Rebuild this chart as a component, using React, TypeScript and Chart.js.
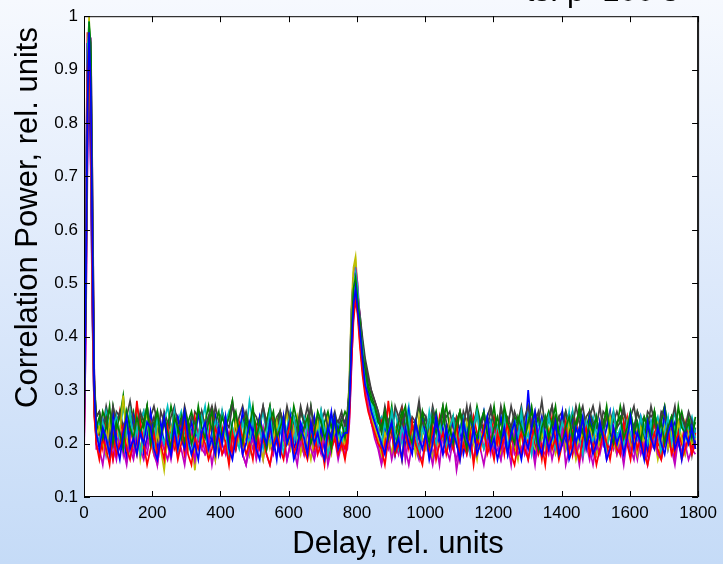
import React, { useEffect, useRef } from 'react';
import { Chart, registerables } from 'chart.js';

Chart.register(...registerables);

// Delay axis (rel. units) shared by every trace
const delay = [
  0, 5, 10, 15, 20, 25, 30, 36,
  45, 55, 65, 75, 85, 95, 105, 115, 125, 135,
  145, 155, 165, 175, 185, 195, 205, 215, 225, 235,
  245, 255, 265, 275, 285, 295, 305, 315, 325, 335,
  345, 355, 365, 375, 385, 395, 405, 415, 425, 435,
  445, 455, 465, 475, 485, 495, 505, 515, 525, 535,
  545, 555, 565, 575, 585, 595, 605, 615, 625, 635,
  645, 655, 665, 675, 685, 695, 705, 715, 725, 735,
  745, 755, 765,
  772, 778, 784, 790, 796, 802, 809, 816, 824, 833, 842, 852, 862,
  872, 882, 892, 902, 912, 922, 932, 942, 952, 962,
  972, 982, 992, 1002, 1012, 1022, 1032, 1042, 1052, 1062,
  1072, 1082, 1092, 1102, 1112, 1122, 1132, 1142, 1152, 1162,
  1172, 1182, 1192, 1202, 1212, 1222, 1232, 1242, 1252, 1262,
  1272, 1282, 1292, 1302, 1312, 1322, 1332, 1342, 1352, 1362,
  1372, 1382, 1392, 1402, 1412, 1422, 1432, 1442, 1452, 1462,
  1472, 1482, 1492, 1502, 1512, 1522, 1532, 1542, 1552, 1562,
  1572, 1582, 1592, 1602, 1612, 1622, 1632, 1642, 1652, 1662,
  1672, 1682, 1692, 1702, 1712, 1722, 1732, 1742, 1752, 1762,
  1772, 1782, 1792,
];

const xTicks = [0, 200, 400, 600, 800, 1000, 1200, 1400, 1600, 1800];
const yTicks = [0.1, 0.2, 0.3, 0.4, 0.5, 0.6, 0.7, 0.8, 0.9, 1];

const xTitle = 'Delay, rel. units';
const yTitle = 'Correlation Power, rel. units';
const topTitle = 'ts: p=100 s';

// MATLAB default line colour order
const colorOrder = ['#0000ff', '#008000', '#ff0000', '#00bfbf', '#bf00bf', '#bfbf00', '#404040'];

const trace01 = [
  .21, .48, .83, .97, .86, .55, .30, .22,
  .19, .23, .21, .18, .24, .20, .17, .22, .25, .19,
  .21, .18, .22, .20, .24, .23, .19, .17, .21, .25,
  .20, .18, .23, .19, .22, .26, .21, .18, .20, .17,
  .22, .24, .19, .21, .18, .23, .20, .25, .19, .17,
  .21, .23, .18, .20, .24, .22, .19, .17, .22, .20,
  .24, .19, .21, .18, .25, .20, .22, .17, .19, .23,
  .21, .18, .24, .20, .22, .19, .17, .23, .21, .25,
  .19, .21, .22,
  .22, .27, .38, .46, .49, .45, .41, .36, .31, .29, .26, .24, .22,
  .20, .18, .22, .24, .19, .21, .17, .23, .20, .18,
  .24, .21, .19, .22, .17, .20, .25, .21, .18, .23,
  .19, .22, .20, .17, .24, .21, .19, .23, .18, .20,
  .22, .25, .19, .21, .17, .20, .23, .18, .22, .24,
  .20, .17, .21, .19, .23, .26, .20, .18, .22, .19,
  .21, .24, .18, .20, .22, .17, .19, .23, .21, .25,
  .19, .22, .18, .20, .24, .21, .17, .19, .23, .20,
  .22, .18, .21, .25, .19, .22, .20, .17, .24, .21,
  .19, .23, .20, .18, .22, .24, .19, .21, .17, .22,
  .20, .23, .19,
];

const trace02 = [
  .24, .45, .80, .99, .92, .60, .31, .23,
  .25, .21, .23, .27, .20, .24, .22, .19, .26, .23,
  .21, .25, .22, .24, .27, .20, .23, .26, .21, .24,
  .22, .19, .25, .23, .21, .26, .24, .20, .22, .27,
  .23, .21, .24, .26, .19, .22, .25, .23, .20, .24,
  .26, .22, .20, .25, .23, .27, .21, .24, .22, .19,
  .24, .26, .21, .23, .25, .20, .22, .27, .24, .21,
  .23, .25, .20, .22, .26, .24, .21, .23, .19, .25,
  .22, .24, .21,
  .24, .29, .41, .49, .51, .47, .43, .37, .34, .30, .28, .27, .24,
  .23, .26, .21, .24, .19, .22, .25, .27, .22, .20,
  .24, .21, .26, .23, .20, .25, .22, .24, .27, .21,
  .23, .20, .24, .26, .22, .19, .25, .23, .21, .24,
  .26, .22, .20, .23, .25, .21, .27, .24, .22, .20,
  .25, .23, .21, .24, .26, .22, .19, .23, .25, .21,
  .24, .27, .22, .20, .23, .25, .21, .24, .26, .22,
  .20, .24, .22, .25, .21, .23, .27, .22, .20, .24,
  .25, .21, .23, .26, .22, .24, .20, .25, .23, .21,
  .26, .22, .24, .20, .23, .25, .21, .27, .23, .22,
  .24, .21, .25,
];

const trace03 = [
  .18, .52, .90, .96, .78, .45, .26, .20,
  .17, .21, .19, .16, .22, .18, .20, .23, .19, .17,
  .21, .18, .24, .20, .16, .19, .22, .18, .20, .17,
  .23, .19, .21, .17, .20, .24, .18, .16, .21, .19,
  .22, .20, .17, .19, .23, .21, .18, .20, .16, .22,
  .19, .24, .21, .18, .20, .17, .23, .19, .21, .18,
  .16, .20, .22, .19, .17, .21, .24, .18, .20, .22,
  .19, .17, .21, .23, .18, .20, .16, .22, .19, .21,
  .18, .20, .17,
  .20, .25, .35, .43, .47, .44, .38, .33, .29, .26, .24, .22, .20,
  .19, .16, .21, .23, .18, .20, .17, .22, .19, .24,
  .20, .18, .16, .21, .19, .23, .17, .20, .22, .18,
  .21, .19, .24, .17, .20, .18, .22, .16, .21, .19,
  .23, .18, .20, .17, .22, .19, .21, .24, .18, .16,
  .20, .22, .19, .17, .21, .23, .18, .20, .16, .22,
  .19, .21, .17, .20, .24, .18, .22, .19, .17, .21,
  .23, .18, .20, .16, .19, .22, .20, .17, .21, .19,
  .18, .24, .20, .17, .22, .19, .21, .18, .16, .20,
  .22, .19, .17, .21, .23, .18, .20, .22, .17, .19,
  .21, .18, .20,
];

const trace04 = [
  .26, .55, .93, .99, .80, .50, .28, .22,
  .20, .24, .21, .18, .23, .25, .21, .19, .22, .26,
  .20, .23, .18, .22, .24, .21, .19, .25, .22, .20,
  .23, .21, .26, .19, .22, .24, .20, .18, .23, .21,
  .25, .22, .19, .21, .24, .20, .26, .22, .18, .23,
  .21, .19, .24, .22, .20, .25, .21, .23, .19, .22,
  .26, .20, .22, .24, .18, .21, .23, .25, .20, .22,
  .19, .24, .21, .23, .20, .26, .22, .18, .21, .24,
  .22, .20, .23,
  .23, .28, .39, .48, .52, .49, .42, .38, .33, .29, .27, .25, .23,
  .20, .24, .21, .26, .22, .19, .23, .21, .25, .20,
  .22, .18, .23, .21, .26, .22, .20, .24, .21, .19,
  .23, .25, .20, .22, .24, .21, .18, .23, .26, .21,
  .19, .22, .24, .20, .23, .21, .25, .19, .22, .24,
  .21, .26, .20, .22, .18, .23, .21, .24, .20, .25,
  .22, .19, .21, .24, .22, .26, .20, .23, .21, .18,
  .24, .22, .20, .25, .21, .23, .19, .22, .26, .21,
  .23, .20, .24, .22, .19, .21, .25, .22, .20, .24,
  .21, .23, .18, .22, .25, .20, .23, .21, .24, .22,
  .20, .23, .21,
];

const trace05 = [
  .17, .40, .75, .94, .90, .62, .32, .19,
  .19, .16, .21, .18, .20, .17, .22, .19, .16, .21,
  .18, .23, .19, .17, .20, .22, .18, .16, .21, .19,
  .17, .20, .23, .18, .19, .16, .21, .20, .17, .22,
  .19, .18, .21, .16, .20, .23, .18, .19, .17, .21,
  .20, .22, .18, .16, .19, .21, .17, .20, .23, .18,
  .16, .19, .21, .18, .22, .17, .20, .19, .16, .21,
  .18, .23, .19, .17, .20, .18, .22, .16, .19, .21,
  .17, .20, .18,
  .19, .24, .34, .45, .53, .50, .43, .37, .31, .27, .24, .21, .19,
  .16, .19, .21, .17, .20, .18, .22, .19, .16, .20,
  .23, .18, .17, .21, .19, .16, .20, .22, .18, .19,
  .17, .21, .15, .19, .22, .18, .20, .17, .21, .19,
  .16, .20, .23, .18, .19, .17, .21, .20, .16, .22,
  .18, .19, .21, .17, .20, .16, .22, .19, .18, .21,
  .17, .20, .18, .23, .16, .19, .21, .18, .20, .17,
  .22, .19, .16, .20, .18, .21, .17, .19, .23, .18,
  .20, .16, .21, .19, .17, .22, .18, .20, .16, .19,
  .21, .18, .17, .20, .22, .19, .16, .21, .18, .20,
  .17, .19, .18,
];

const trace06 = [
  .20, .50, .86, .93, .82, .50, .27, .21,
  .23, .20, .18, .24, .21, .19, .22, .29, .21, .18,
  .20, .23, .17, .21, .24, .20, .18, .22, .19, .15,
  .21, .23, .20, .18, .22, .25, .19, .21, .18, .22,
  .20, .24, .19, .21, .17, .22, .20, .23, .18, .21,
  .24, .20, .19, .22, .18, .21, .23, .20, .17, .22,
  .19, .21, .24, .18, .20, .22, .19, .23, .21, .18,
  .22, .20, .17, .21, .24, .19, .22, .20, .18, .23,
  .21, .19, .22,
  .22, .30, .44, .52, .54, .48, .41, .35, .32, .28, .25, .23, .21,
  .18, .22, .20, .24, .19, .21, .17, .23, .20, .22,
  .18, .25, .21, .19, .22, .17, .20, .23, .21, .19,
  .24, .20, .22, .18, .21, .19, .23, .20, .17, .22,
  .21, .24, .19, .20, .22, .18, .21, .23, .19, .20,
  .17, .22, .20, .24, .21, .19, .18, .22, .20, .23,
  .21, .18, .20, .22, .19, .24, .21, .17, .20, .22,
  .19, .23, .20, .18, .21, .22, .19, .25, .20, .18,
  .22, .20, .24, .19, .21, .18, .23, .20, .22, .19,
  .21, .17, .20, .23, .19, .22, .20, .24, .21, .18,
  .22, .20, .21,
];

const trace07 = [
  .30, .48, .80, .95, .88, .58, .31, .25,
  .26, .23, .25, .22, .27, .24, .26, .23, .25, .28,
  .24, .22, .26, .24, .27, .23, .25, .21, .26, .24,
  .22, .25, .27, .23, .24, .26, .22, .25, .24, .21,
  .26, .23, .25, .27, .24, .22, .26, .24, .23, .27,
  .25, .22, .24, .26, .23, .25, .21, .24, .27, .23,
  .25, .24, .22, .26, .23, .27, .24, .25, .22, .26,
  .24, .23, .27, .22, .25, .24, .26, .23, .21, .25,
  .24, .26, .23,
  .25, .30, .40, .47, .50, .48, .44, .39, .35, .32, .30, .28, .26,
  .23, .26, .24, .22, .27, .25, .23, .26, .22, .25,
  .24, .28, .23, .25, .21, .26, .24, .23, .27, .24,
  .22, .25, .24, .26, .23, .27, .22, .24, .26, .23,
  .25, .23, .26, .24, .22, .27, .24, .25, .23, .26,
  .24, .22, .25, .27, .23, .24, .26, .22, .25, .24,
  .27, .23, .25, .22, .26, .24, .23, .27, .24, .21,
  .25, .26, .24, .23, .27, .22, .25, .24, .26, .23,
  .24, .27, .23, .25, .22, .26, .24, .25, .23, .27,
  .24, .22, .26, .25, .23, .24, .27, .22, .25, .23,
  .26, .24, .19,
];

const trace08 = [
  .23, .60, .95, .90, .70, .42, .26, .22,
  .20, .24, .18, .22, .26, .21, .19, .23, .17, .22,
  .25, .20, .23, .18, .21, .26, .22, .19, .24, .20,
  .22, .18, .23, .25, .21, .19, .22, .24, .20, .26,
  .21, .23, .19, .22, .25, .18, .21, .24, .20, .23,
  .19, .22, .26, .21, .18, .23, .20, .25, .22, .19,
  .24, .21, .17, .23, .20, .22, .25, .19, .21, .24,
  .22, .18, .21, .25, .20, .23, .19, .22, .26, .21,
  .23, .20, .24,
  .23, .31, .45, .51, .52, .46, .40, .35, .31, .28, .26, .24, .22,
  .19, .23, .21, .25, .18, .22, .24, .20, .26, .21,
  .19, .23, .25, .21, .18, .22, .24, .20, .23, .19,
  .22, .24, .20, .23, .18, .21, .25, .22, .19, .23,
  .26, .21, .24, .19, .22, .25, .21, .18, .23, .20,
  .22, .25, .21, .30, .22, .18, .22, .25, .21, .19,
  .23, .20, .22, .26, .19, .21, .24, .20, .23, .18,
  .21, .25, .22, .19, .24, .20, .23, .26, .21, .19,
  .22, .24, .20, .18, .23, .21, .25, .22, .19, .24,
  .20, .23, .21, .26, .19, .22, .24, .20, .18, .23,
  .21, .24, .20,
];

const trace09 = [
  .25, .44, .78, .98, .95, .66, .33, .24,
  .22, .26, .24, .21, .27, .23, .25, .29, .22, .24,
  .26, .21, .25, .23, .27, .20, .24, .26, .22, .25,
  .23, .27, .24, .22, .25, .20, .24, .26, .23, .21,
  .25, .24, .27, .22, .24, .26, .21, .23, .25, .28,
  .23, .21, .25, .24, .22, .26, .23, .25, .21, .24,
  .27, .22, .24, .26, .23, .21, .25, .24, .22, .26,
  .24, .22, .27, .23, .25, .20, .24, .26, .23, .25,
  .22, .24, .26,
  .25, .30, .41, .48, .50, .47, .43, .39, .35, .31, .29, .27, .25,
  .22, .25, .23, .27, .21, .24, .26, .23, .25, .22,
  .24, .27, .23, .21, .25, .24, .26, .22, .24, .27,
  .23, .25, .22, .26, .24, .21, .25, .23, .27, .24,
  .22, .25, .23, .27, .22, .24, .26, .23, .21, .25,
  .24, .26, .22, .24, .27, .23, .25, .21, .24, .26,
  .23, .25, .21, .24, .26, .22, .25, .23, .27, .24,
  .22, .26, .23, .25, .21, .24, .26, .22, .25, .23,
  .27, .24, .22, .25, .23, .26, .24, .21, .25, .23,
  .26, .22, .24, .27, .23, .25, .22, .24, .26, .23,
  .25, .22, .24,
];

const trace10 = [
  .20, .62, .97, .92, .72, .44, .25, .21,
  .22, .19, .24, .20, .17, .22, .26, .21, .19, .23,
  .20, .28, .22, .19, .21, .24, .20, .18, .22, .25,
  .20, .23, .19, .21, .24, .18, .22, .20, .25, .21,
  .19, .23, .20, .27, .21, .19, .23, .20, .22, .18,
  .24, .21, .19, .22, .20, .23, .18, .24, .21, .19,
  .22, .25, .20, .18, .23, .21, .19, .24, .22, .20,
  .18, .22, .24, .19, .21, .23, .20, .17, .22, .24,
  .20, .21, .19,
  .21, .27, .38, .46, .49, .45, .39, .34, .30, .27, .25, .23, .21,
  .24, .19, .28, .22, .18, .21, .26, .20, .23, .19,
  .22, .19, .24, .21, .18, .23, .20, .25, .21, .19,
  .22, .24, .20, .18, .23, .21, .19, .25, .22, .20,
  .23, .19, .21, .25, .20, .22, .18, .24, .21, .19,
  .23, .18, .22, .20, .24, .19, .21, .17, .22, .20,
  .25, .21, .19, .23, .20, .22, .18, .24, .21, .19,
  .23, .20, .22, .18, .21, .24, .20, .19, .23, .21,
  .18, .22, .25, .20, .21, .19, .23, .22, .18, .21,
  .24, .20, .19, .22, .21, .23, .18, .22, .20, .24,
  .21, .19, .22,
];

const trace11 = [
  .27, .50, .85, .97, .90, .58, .30, .23,
  .24, .21, .26, .23, .20, .25, .22, .27, .23, .21,
  .25, .22, .24, .26, .21, .23, .20, .25, .22, .24,
  .27, .23, .21, .24, .26, .22, .20, .25, .23, .21,
  .24, .27, .22, .20, .25, .23, .21, .24, .26, .22,
  .23, .20, .25, .22, .28, .24, .21, .23, .26, .22,
  .20, .24, .22, .25, .21, .23, .26, .20, .24, .22,
  .25, .23, .21, .24, .22, .26, .23, .20, .25, .22,
  .24, .21, .23,
  .24, .29, .40, .49, .51, .48, .42, .37, .33, .30, .28, .26, .24,
  .25, .21, .24, .22, .26, .23, .20, .24, .27, .22,
  .24, .22, .25, .21, .23, .26, .22, .20, .24, .23,
  .21, .25, .20, .23, .25, .22, .24, .21, .26, .23,
  .26, .22, .24, .20, .23, .25, .22, .24, .21, .25,
  .21, .24, .22, .26, .23, .20, .24, .22, .25, .21,
  .22, .25, .21, .23, .24, .22, .26, .20, .23, .25,
  .21, .23, .25, .22, .20, .24, .23, .26, .21, .24,
  .25, .21, .23, .26, .22, .24, .20, .23, .25, .22,
  .23, .25, .22, .24, .21, .23, .26, .22, .24, .21,
  .23, .25, .22,
];

const trace12 = [
  .19, .38, .70, .92, .96, .68, .34, .20,
  .18, .21, .19, .23, .17, .20, .22, .18, .24, .19,
  .17, .21, .24, .19, .18, .22, .20, .16, .21, .19,
  .20, .17, .21, .19, .23, .18, .20, .22, .17, .21,
  .22, .18, .19, .21, .17, .23, .20, .18, .22, .19,
  .19, .22, .18, .16, .21, .19, .23, .20, .17, .21,
  .20, .18, .22, .19, .21, .17, .20, .24, .18, .20,
  .23, .19, .21, .18, .20, .22, .19, .17, .21, .23,
  .18, .20, .19,
  .20, .26, .36, .44, .48, .46, .41, .36, .31, .27, .24, .22, .20,
  .17, .21, .19, .22, .18, .20, .23, .17, .21, .19,
  .19, .17, .21, .19, .22, .18, .20, .16, .22, .20,
  .24, .19, .17, .21, .20, .22, .18, .21, .19, .23,
  .19, .21, .18, .23, .20, .17, .21, .19, .22, .18,
  .19, .22, .18, .20, .21, .17, .19, .23, .20, .18,
  .22, .20, .18, .21, .19, .23, .18, .20, .16, .21,
  .20, .17, .21, .19, .22, .20, .18, .23, .19, .21,
  .21, .19, .23, .18, .20, .17, .21, .19, .22, .20,
  .19, .22, .18, .20, .21, .19, .17, .22, .20, .18,
  .21, .19, .20,
];

const trace13 = [
  .22, .55, .90, 1.0, .83, .50, .28, .22,
  .24, .20, .22, .18, .25, .21, .23, .19, .22, .26,
  .20, .24, .19, .22, .26, .21, .18, .23, .20, .24,
  .23, .21, .25, .20, .22, .19, .24, .21, .15, .22,
  .21, .23, .18, .22, .25, .20, .22, .24, .19, .21,
  .19, .23, .21, .25, .20, .22, .18, .23, .21, .24,
  .24, .21, .23, .19, .22, .26, .20, .22, .25, .19,
  .22, .19, .24, .21, .23, .20, .22, .25, .19, .23,
  .21, .22, .20,
  .23, .33, .46, .53, .55, .49, .42, .36, .32, .29, .26, .24, .22,
  .20, .24, .21, .18, .23, .22, .25, .19, .22, .24,
  .19, .22, .24, .20, .23, .21, .18, .24, .22, .20,
  .23, .25, .20, .22, .19, .24, .21, .23, .26, .20,
  .22, .19, .24, .21, .23, .20, .25, .22, .18, .23,
  .21, .18, .22, .24, .20, .23, .21, .25, .19, .22,
  .19, .23, .21, .25, .22, .20, .23, .18, .22, .24,
  .21, .24, .19, .22, .20, .23, .25, .21, .19, .22,
  .22, .20, .24, .21, .19, .23, .22, .20, .24, .21,
  .20, .24, .22, .21, .23, .20, .18, .22, .25, .21,
  .23, .20, .22,
];

const trace14 = [
  .28, .50, .84, .95, .87, .57, .31, .25,
  .26, .23, .27, .24, .22, .26, .25, .28, .23, .25,
  .23, .27, .24, .26, .22, .25, .27, .24, .21, .26,
  .24, .22, .26, .25, .23, .27, .24, .22, .26, .25,
  .26, .23, .25, .22, .27, .24, .26, .23, .25, .28,
  .23, .25, .27, .24, .22, .26, .25, .23, .27, .24,
  .27, .23, .25, .26, .24, .22, .26, .25, .23, .27,
  .24, .27, .23, .25, .22, .26, .21, .25, .24, .26,
  .23, .25, .24,
  .26, .31, .40, .46, .49, .47, .44, .40, .36, .33, .30, .28, .26,
  .23, .27, .24, .26, .22, .25, .27, .23, .26, .24,
  .24, .22, .26, .25, .23, .27, .24, .21, .26, .25,
  .26, .23, .25, .22, .26, .24, .27, .23, .25, .24,
  .23, .25, .27, .24, .22, .26, .25, .23, .27, .24,
  .24, .27, .23, .25, .22, .26, .24, .28, .23, .25,
  .27, .23, .25, .26, .22, .24, .26, .23, .25, .27,
  .23, .25, .27, .24, .22, .26, .25, .23, .24, .26,
  .24, .26, .23, .25, .27, .23, .24, .22, .26, .25,
  .26, .22, .25, .27, .23, .24, .26, .23, .25, .22,
  .24, .18, .23,
];

const traces = [
  trace01, trace02, trace03, trace04, trace05, trace06, trace07,
  trace08, trace09, trace10, trace11, trace12, trace13, trace14,
];

const FONT = '"Liberation Sans", Arial, Helvetica, sans-serif';

const framePlugin = {
  id: 'matlabFrame',
  beforeDraw(chart: any) {
    const { ctx, chartArea: a } = chart;
    ctx.save();
    ctx.fillStyle = '#ffffff';
    ctx.fillRect(a.left, a.top, a.right - a.left, a.bottom - a.top);
    ctx.restore();
  },
  afterDatasetsDraw(chart: any) {
    const { ctx, chartArea: a, scales } = chart;
    ctx.save();
    ctx.strokeStyle = '#000';
    ctx.lineWidth = 1;
    ctx.strokeRect(a.left + 0.5, a.top + 0.5, a.right - a.left - 1, a.bottom - a.top - 1);
    ctx.lineWidth = 2;
    ctx.strokeStyle = '#222';
    ctx.beginPath();
    ctx.moveTo(a.right, a.top);
    ctx.lineTo(a.right, a.bottom);
    ctx.stroke();
    const L = 6;
    ctx.lineWidth = 1;
    ctx.strokeStyle = '#000';
    ctx.beginPath();
    for (const v of xTicks) {
      const x = Math.round(scales.x.getPixelForValue(v)) + 0.5;
      ctx.moveTo(x, a.bottom);
      ctx.lineTo(x, a.bottom - L);
      ctx.moveTo(x, a.top);
      ctx.lineTo(x, a.top + L);
    }
    for (const v of yTicks) {
      const y = Math.round(scales.y.getPixelForValue(v)) + 0.5;
      ctx.moveTo(a.left, y);
      ctx.lineTo(a.left + L, y);
      ctx.moveTo(a.right, y);
      ctx.lineTo(a.right - L, y);
    }
    ctx.stroke();
    ctx.restore();
  },
  afterDraw(chart: any) {
    const { ctx } = chart;
    ctx.save();
    ctx.fillStyle = '#000';
    ctx.font = `31px ${FONT}`;
    ctx.textBaseline = 'alphabetic';
    ctx.textAlign = 'center';
    ctx.fillText(xTitle, 398, 553);
    ctx.save();
    ctx.translate(37, 217.5);
    ctx.rotate(-Math.PI / 2);
    ctx.fillText(yTitle, 0, 0);
    ctx.restore();
    ctx.textAlign = 'left';
    const pre = ctx.measureText('ts: ').width;
    ctx.fillText(topTitle, 567 - pre, 1);
    ctx.restore();
  },
};

export default function App() {
  const ref = useRef<HTMLCanvasElement | null>(null);

  useEffect(() => {
    if (!ref.current) return;
    const datasets = traces.map((vals, i) => ({
      label: `trace ${i + 1}`,
      data: vals.map((y, j) => ({ x: delay[j], y })),
      borderColor: colorOrder[i % colorOrder.length],
      backgroundColor: colorOrder[i % colorOrder.length],
      borderWidth: 1.7,
      pointRadius: 0,
      tension: 0,
      fill: false,
    }));
    const tickFont = { family: FONT, size: 17 };
    const chart = new Chart(ref.current, {
      type: 'line',
      data: { datasets },
      options: {
        animation: false,
        responsive: false,
        events: [],
        layout: { padding: { top: 14, right: 24, left: 0, bottom: 0 } },
        plugins: { legend: { display: false }, tooltip: { enabled: false } },
        scales: {
          x: {
            type: 'linear',
            min: 0,
            max: 1800,
            afterBuildTicks: (s: any) => { s.ticks = xTicks.map((v) => ({ value: v })); },
            ticks: { font: tickFont, color: '#000', padding: 6, maxRotation: 0, autoSkip: false, callback: (v: any) => String(v) },
            grid: { display: false, drawTicks: false },
            border: { display: false },
            afterFit: (s: any) => { s.height = 67; },
          },
          y: {
            type: 'linear',
            min: 0.1,
            max: 1,
            afterBuildTicks: (s: any) => { s.ticks = yTicks.map((v) => ({ value: v })); },
            ticks: { font: tickFont, color: '#000', padding: 6, autoSkip: false, callback: (v: any) => String(Math.round(v * 10) / 10) },
            grid: { display: false, drawTicks: false },
            border: { display: false },
            afterFit: (s: any) => { s.width = 84; },
          },
        },
      } as any,
      plugins: [framePlugin],
    });
    return () => chart.destroy();
  }, []);

  return (
    <div
      style={{
        position: 'fixed',
        left: 0,
        top: 0,
        width: 723,
        height: 564,
        background: 'linear-gradient(to bottom, #f6f9fe 0%, #dde9fb 50%, #c5dbf7 100%)',
      }}
    >
      <canvas ref={ref} width={723} height={564} style={{ display: 'block', width: 723, height: 564 }} />
    </div>
  );
}
